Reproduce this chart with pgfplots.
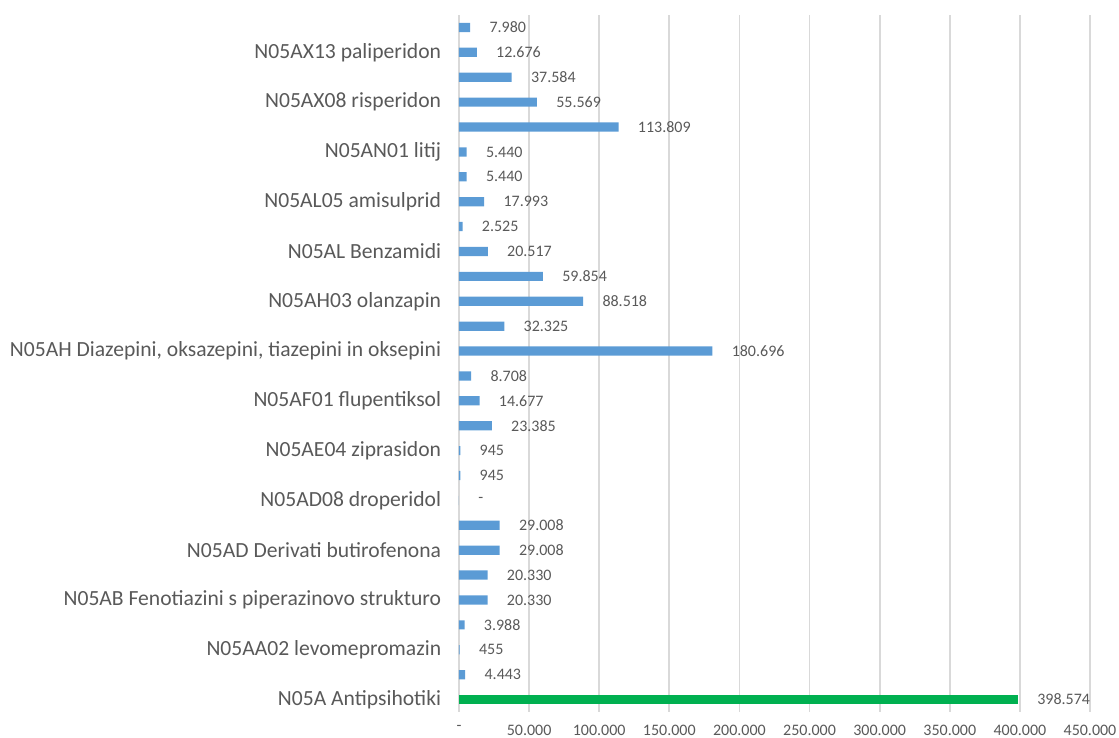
\documentclass[border=0pt]{standalone}
\usepackage{fontspec}
\setmainfont{Carlito}
\usepackage{pgfplots}
\usepackage{pgfplotstable}
\pgfplotsset{compat=1.18}
\definecolor{barblue}{HTML}{5B9BD5}
\definecolor{bargreen}{HTML}{00B050}
\definecolor{txtgray}{HTML}{595959}
\definecolor{gridgray}{HTML}{D9D9D9}

% position, value, label
\pgfplotstableread{
pos val lab
1  4443   4.443
2  455    455
3  3988   3.988
4  20330  20.330
5  20330  20.330
6  29008  29.008
7  29008  29.008
8  0      -
9  945    945
10 945    945
11 23385  23.385
12 14677  14.677
13 8708   8.708
14 180696 180.696
15 32325  32.325
16 88518  88.518
17 59854  59.854
18 20517  20.517
19 2525   2.525
20 17993  17.993
21 5440   5.440
22 5440   5.440
23 113809 113.809
24 55569  55.569
25 37584  37.584
26 12676  12.676
27 7980   7.980
}\detail

\pgfplotstableread{
pos val lab
0 398574 398.574
}\total

\begin{document}
\begin{tikzpicture}
\useasboundingbox (-229.5pt,-13pt) rectangle (330pt,356pt);
\begin{axis}[
    at={(0,0)}, anchor=south west,
    scale only axis,
    width=315.5pt, height=348.5pt,
    xbar, bar width=4.6pt, bar shift=0pt,
    xmin=0, xmax=450000,
    ymin=-0.5, ymax=27.5,
    xtick={0,50000,...,450000},
    xticklabels={-,50.000,100.000,150.000,200.000,250.000,300.000,350.000,400.000,450.000},
    ytick={0,2,...,26},
    yticklabels={N05A Antipsihotiki, N05AA02 levomepromazin, N05AB Fenotiazini s piperazinovo strukturo, N05AD Derivati butirofenona, N05AD08 droperidol, N05AE04 ziprasidon, N05AF01 flupentiksol, N05AH Diazepini{,} oksazepini{,} tiazepini in oksepini, N05AH03 olanzapin, N05AL Benzamidi, N05AL05 amisulprid, N05AN01 litij, N05AX08 risperidon, N05AX13 paliperidon},
    xmajorgrids,
    grid style={draw=gridgray, line width=0.9pt},
    axis line style={draw=none},
    tick style={draw=none},
    xticklabel style={font=\fontsize{8}{10}\selectfont, text=txtgray, inner sep=0pt, yshift=-6.5pt},
    yticklabel style={font=\fontsize{10.8}{13}\selectfont, text=txtgray, inner sep=0pt, xshift=-4.5pt},
    point meta=explicit symbolic,
    nodes near coords,
    nodes near coords style={font=\fontsize{8}{10}\selectfont, text=txtgray, anchor=west, inner sep=0pt, xshift=9.5pt},
]
\addplot[fill=barblue, draw=none] table[x=val, y=pos, meta=lab] {\detail};
\addplot[fill=bargreen, draw=none] table[x=val, y=pos, meta=lab] {\total};
\end{axis}
\end{tikzpicture}
\end{document}
